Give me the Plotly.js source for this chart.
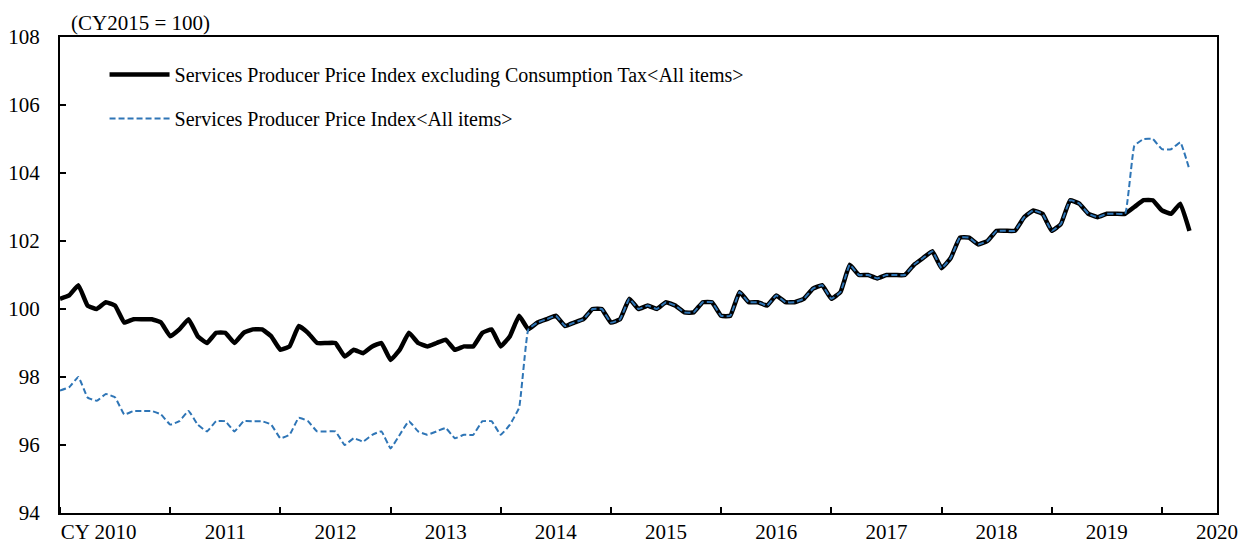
<!DOCTYPE html>
<html>
<head>
<meta charset="utf-8">
<script src="https://cdn.plot.ly/plotly-3.0.1.min.js"></script>
<style>
    html, body { margin: 0; padding: 0; background: #fff; }
    #plot-container { width: 1239px; height: 548px; }
</style>
</head>
<body>
<div id="plot-container"></div>
<script>
// Monthly index values, Jan 2010 - Apr 2020 (CY2015 = 100)
const exclTax = [
    100.3, 100.4, 100.7, 100.1, 100.0, 100.2, 100.1, 99.6, 99.7, 99.7, 99.7, 99.6,
    99.2, 99.4, 99.7, 99.2, 99.0, 99.3, 99.3, 99.0, 99.3, 99.4, 99.4, 99.2,
    98.8, 98.9, 99.5, 99.3, 99.0, 99.0, 99.0, 98.6, 98.8, 98.7, 98.9, 99.0,
    98.5, 98.8, 99.3, 99.0, 98.9, 99.0, 99.1, 98.8, 98.9, 98.9, 99.3, 99.4,
    98.9, 99.2, 99.8, 99.4, 99.6, 99.7, 99.8, 99.5, 99.6, 99.7, 100.0, 100.0,
    99.6, 99.7, 100.3, 100.0, 100.1, 100.0, 100.2, 100.1, 99.9, 99.9, 100.2, 100.2,
    99.8, 99.8, 100.5, 100.2, 100.2, 100.1, 100.4, 100.2, 100.2, 100.3, 100.6, 100.7,
    100.3, 100.5, 101.3, 101.0, 101.0, 100.9, 101.0, 101.0, 101.0, 101.3, 101.5, 101.7,
    101.2, 101.5, 102.1, 102.1, 101.9, 102.0, 102.3, 102.3, 102.3, 102.7, 102.9, 102.8,
    102.3, 102.5, 103.2, 103.1, 102.8, 102.7, 102.8, 102.8, 102.8, 103.0, 103.2, 103.2,
    102.9, 102.8, 103.1, 102.3
];

const inclTax = [
    97.6, 97.7, 98.0, 97.4, 97.3, 97.5, 97.4, 96.9, 97.0, 97.0, 97.0, 96.9,
    96.6, 96.7, 97.0, 96.6, 96.4, 96.7, 96.7, 96.4, 96.7, 96.7, 96.7, 96.6,
    96.2, 96.3, 96.8, 96.7, 96.4, 96.4, 96.4, 96.0, 96.2, 96.1, 96.3, 96.4,
    95.9, 96.3, 96.7, 96.4, 96.3, 96.4, 96.5, 96.2, 96.3, 96.3, 96.7, 96.7,
    96.3, 96.6, 97.1, 99.4, 99.6, 99.7, 99.8, 99.5, 99.6, 99.7, 100.0, 100.0,
    99.6, 99.7, 100.3, 100.0, 100.1, 100.0, 100.2, 100.1, 99.9, 99.9, 100.2, 100.2,
    99.8, 99.8, 100.5, 100.2, 100.2, 100.1, 100.4, 100.2, 100.2, 100.3, 100.6, 100.7,
    100.3, 100.5, 101.3, 101.0, 101.0, 100.9, 101.0, 101.0, 101.0, 101.3, 101.5, 101.7,
    101.2, 101.5, 102.1, 102.1, 101.9, 102.0, 102.3, 102.3, 102.3, 102.7, 102.9, 102.8,
    102.3, 102.5, 103.2, 103.1, 102.8, 102.7, 102.8, 102.8, 102.8, 104.8, 105.0, 105.0,
    104.7, 104.7, 104.9, 104.1
];

// Year labels and where they sit on the month axis (0 = Jan 2010)
const yearLabels = ['CY 2010', '2011', '2012', '2013', '2014', '2015', '2016', '2017', '2018', '2019', '2020'];
const yearLabelPos = [4.2, 18, 30, 42, 54, 66, 78, 90, 102, 114, 126];

// Month index for each observation
const months = exclTax.map((v, k) => k);

const font = 'Liberation Serif, Times New Roman, serif';

let traces = [
    {
        x: months,
        y: exclTax,
        mode: 'lines',
        name: 'Services Producer Price Index excluding Consumption Tax&lt;All items&gt;',
        legendgroup: 'a',
        line: {color: '#000000', width: 4.5, shape: 'spline', smoothing: 0.3}
    },
    {
        x: months,
        y: inclTax,
        mode: 'lines',
        name: 'Services Producer Price Index&lt;All items&gt;',
        legendgroup: 'b',
        line: {color: '#2E75B6', width: 2, dash: '6px,3px', shape: 'spline', smoothing: 0.3}
    }
];

const layout = {
    width: 1239,
    height: 548,
    margin: {l: 60, r: 22, t: 37, b: 35},
    paper_bgcolor: '#ffffff',
    plot_bgcolor: '#ffffff',
    font: {family: font, size: 21, color: '#000000'},
    showlegend: true,
    legend: {
        x: 0.0385,
        y: 0.962,
        xanchor: 'left',
        yanchor: 'top',
        bgcolor: 'rgba(0,0,0,0)',
        font: {family: font, size: 20, color: '#000000'},
        traceorder: 'grouped',
        tracegroupgap: 15,
        itemwidth: 60
    },
    xaxis: {
        range: [0, 126],
        tickmode: 'array',
        tickvals: yearLabelPos,
        ticktext: yearLabels,
        ticks: '',
        ticklabelstandoff: -1,
        showgrid: false,
        zeroline: false,
        showline: true,
        linecolor: '#000000',
        linewidth: 2,
        mirror: true,
        minor: {
            tickmode: 'linear',
            tick0: 0,
            dtick: 12,
            ticks: 'inside',
            ticklen: 6,
            tickwidth: 2,
            tickcolor: '#000000',
            showgrid: false
        }
    },
    yaxis: {
        range: [94, 108],
        dtick: 2,
        ticks: 'inside',
        ticklen: 6,
        tickwidth: 2,
        tickcolor: '#000000',
        ticklabelstandoff: 14,
        showgrid: false,
        zeroline: false,
        showline: true,
        linecolor: '#000000',
        linewidth: 2,
        mirror: true
    },
    annotations: [
        {
            text: '(CY2015 = 100)',
            xref: 'paper',
            yref: 'paper',
            x: 0.008,
            y: 1,
            xanchor: 'left',
            yanchor: 'bottom',
            showarrow: false,
            font: {family: font, size: 21, color: '#000000'}
        }
    ]
};

Plotly.newPlot('plot-container', traces, layout, {displayModeBar: false, staticPlot: true});
</script>
</body>
</html>
